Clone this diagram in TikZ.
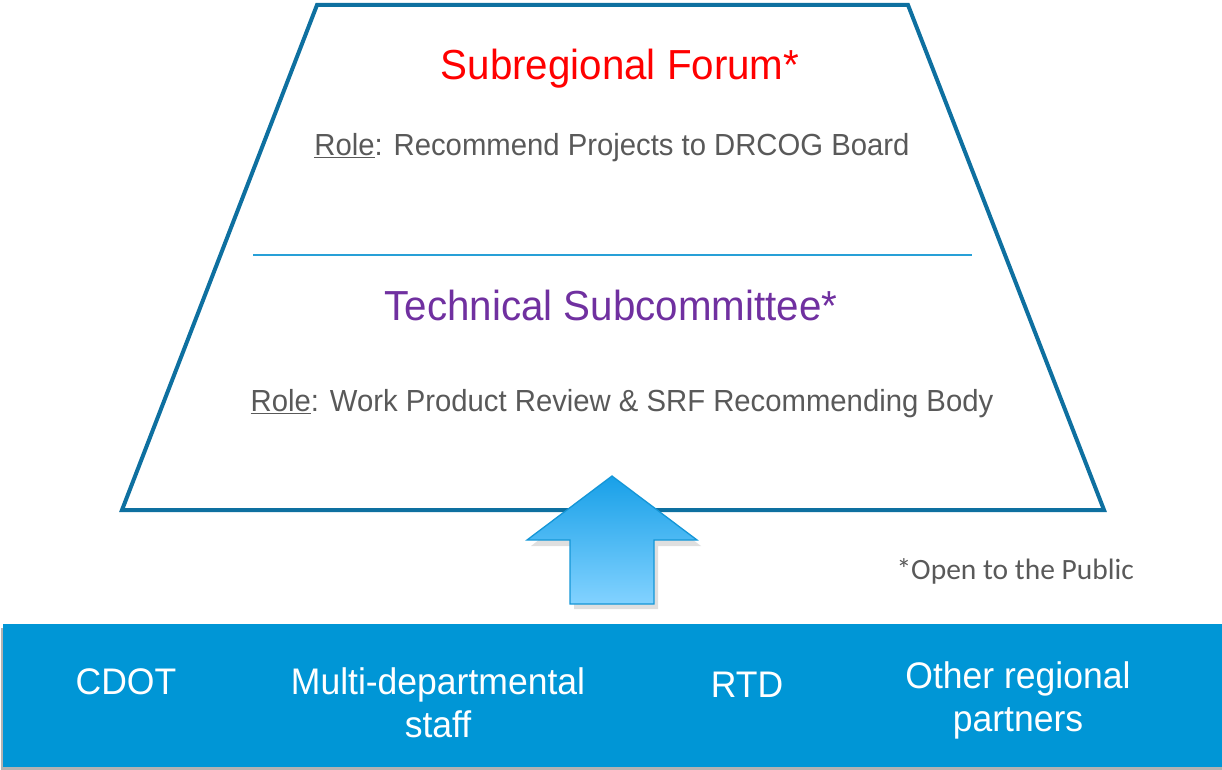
\documentclass[tikz,border=0pt]{standalone}
\usepackage{fontspec}
\setmainfont[FakeStretch=0.96]{Liberation Sans}
\newfontfamily\calib{Carlito}
\definecolor{trapblue}{RGB}{14,112,160}
\definecolor{linblue}{RGB}{40,160,215}
\definecolor{barblue}{RGB}{0,150,214}
\definecolor{txtgray}{RGB}{89,89,89}
\definecolor{purp}{RGB}{112,48,160}
\definecolor{arrtop}{RGB}{24,160,232}
\definecolor{arrbot}{RGB}{130,210,255}
\definecolor{arredge}{RGB}{20,150,215}
\tikzset{
  heading/.style={anchor=base, font=\fontsize{42}{46}\selectfont},
  roletext/.style={anchor=base, text=txtgray, font=\fontsize{30.5}{34}\selectfont},
  bartext/.style={anchor=base, text=white, align=center, font=\fontsize{37}{43}\selectfont},
}
\begin{document}
\begin{tikzpicture}[x=1pt,y=-1pt]
\useasboundingbox (0,0) rectangle (1222,770);
% bottom bar with shadow
\fill[black!30] (1,628) rectangle (1222,770);
\fill[barblue] (3,624) rectangle (1222,767);
% trapezoid
\draw[trapblue, line width=4pt, line join=miter] (317,5) -- (908,5) -- (1104,510) -- (122,510) -- cycle;
% divider
\coordinate (dl) at (253,255);
\coordinate (dr) at (972,255);
\draw[linblue, line width=1.6pt] (dl) -- (dr);
% texts
\node[heading, text=red] (srf) at (620,80) {Subregional Forum*};
\node[roletext] (role1) at (612,156) {\underline{Role}: Recommend Projects to DRCOG Board};
\node[heading, text=purp] (tsc) at (611,320) {Technical Subcommittee*};
\node[roletext] (role2) at (622,411) {\underline{Role}: Work Product Review \& SRF Recommending Body};
% arrow shadow
\fill[black!25, opacity=0.5] (615,481) -- (701,546) -- (658,546) -- (658,609) -- (574,609) -- (574,546) -- (531,546) -- cycle;
% arrow
\path[draw=arredge, line width=1.3pt, line join=miter, top color=arrtop, bottom color=arrbot]
  (612,476) -- (697,540) -- (654,540) -- (654,604) -- (570,604) -- (570,540) -- (527,540) -- cycle;
\node[anchor=base west, text=txtgray, font=\calib\fontsize{29.5}{32}\selectfont] (open) at (893,579) {*Open to the Public};
% bar texts
\node[bartext] (cdot) at (126,694) {CDOT};
\node[bartext] (multi) at (438,737) {Multi-departmental\\staff};
\node[bartext] (rtd) at (747,697) {RTD};
\node[bartext] (other) at (1018,731) {Other regional\\partners};
\end{tikzpicture}
\end{document}
